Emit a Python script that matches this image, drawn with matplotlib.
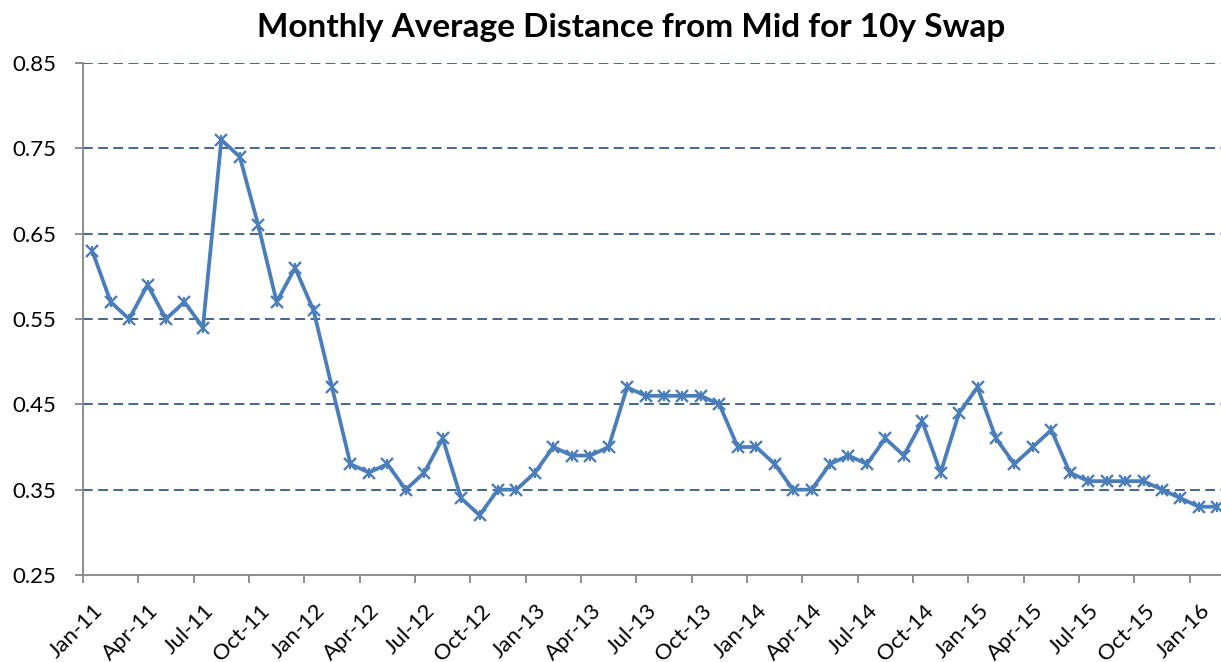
import numpy as np
import matplotlib
matplotlib.use("Agg")
import matplotlib.pyplot as plt
import matplotlib.transforms as mtransforms

# monthly values, Jan-11 .. Feb-16
values = [0.63, 0.57, 0.55, 0.59, 0.55, 0.57, 0.54, 0.76, 0.74, 0.66, 0.57, 0.61,
          0.56, 0.47, 0.38, 0.37, 0.38, 0.35, 0.37, 0.41, 0.34, 0.32, 0.35, 0.35,
          0.37, 0.40, 0.39, 0.39, 0.40, 0.47, 0.46, 0.46, 0.46, 0.46, 0.45, 0.40,
          0.40, 0.38, 0.35, 0.35, 0.38, 0.39, 0.38, 0.41, 0.39, 0.43, 0.37, 0.44,
          0.47, 0.41, 0.38, 0.40, 0.42, 0.37, 0.36, 0.36, 0.36, 0.36, 0.35, 0.34,
          0.33, 0.33]

tick_labels = ["Jan-11", "Apr-11", "Jul-11", "Oct-11",
               "Jan-12", "Apr-12", "Jul-12", "Oct-12",
               "Jan-13", "Apr-13", "Jul-13", "Oct-13",
               "Jan-14", "Apr-14", "Jul-14", "Oct-14",
               "Jan-15", "Apr-15", "Jul-15", "Oct-15",
               "Jan-16"]
y_ticks = [0.25, 0.35, 0.45, 0.55, 0.65, 0.75, 0.85]

plt.rcParams["font.family"] = ["Lato", "DejaVu Sans"]

line_color = "#4A7EBB"
grid_color = "#3F6598"
axis_color = "#868686"

fig = plt.figure(figsize=(12.21, 6.62), dpi=100)
ax = fig.add_axes([83 / 1221, 1 - 575 / 662, 1 - 83 / 1221, (575 - 63) / 662])

# points sit in the middle of each month
x = np.arange(len(values)) + 0.5
ax.plot(x, values, color=line_color, linewidth=2.7, marker="x",
        markersize=9, markeredgewidth=1.7, zorder=3)
ax.plot(x, values, linestyle="none", marker="|", color=line_color,
        markersize=7, markeredgewidth=1.5, zorder=3)

ax.set_xlim(0, 61.7)
ax.set_ylim(0.25, 0.85)
ax.set_yticks(y_ticks)
ax.set_yticklabels([f"{v:.2f}" for v in y_ticks])
ax.set_xticks(np.arange(len(tick_labels)) * 3)
ax.set_xticklabels(tick_labels, rotation=45, ha="right", va="top",
                   rotation_mode="anchor")

for v in y_ticks[1:]:
    ax.axhline(v, color=grid_color, linewidth=1.4, linestyle=(0, (5, 2.8)), zorder=1)

for s in ["top", "right"]:
    ax.spines[s].set_visible(False)
for s in ["left", "bottom"]:
    ax.spines[s].set_color(axis_color)
    ax.spines[s].set_linewidth(1.3)
ax.tick_params(axis="both", colors=axis_color, length=6, width=1.3,
               labelcolor="black")
ax.tick_params(axis="y", labelsize=16, pad=13)
ax.tick_params(axis="x", labelsize=16, pad=3)

# nudge the rotated date labels right and down, like the original
offset = mtransforms.ScaledTranslation(0.10, -0.13, fig.dpi_scale_trans)
for lab in ax.get_xticklabels():
    lab.set_transform(lab.get_transform() + offset)

fig.text(631 / 1221, 1 - 28 / 662, "Monthly Average Distance from Mid for 10y Swap",
         ha="center", va="center", fontsize=24, fontweight="bold")

fig.savefig("out.png", dpi=100)
